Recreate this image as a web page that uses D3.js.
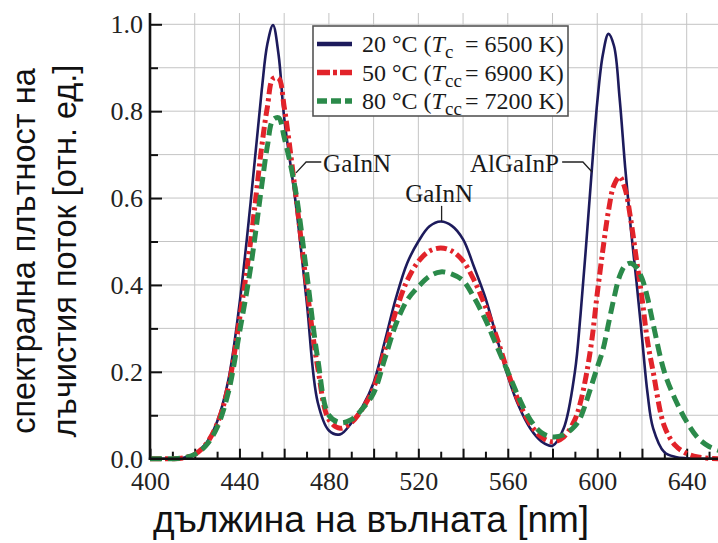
<!DOCTYPE html>
<html>
<head>
<meta charset="utf-8">
<script src="https://cdn.jsdelivr.net/npm/d3@7"></script>
<style>
  html, body { margin: 0; padding: 0; background: #fff; }
  svg { display: block; }
</style>
</head>
<body>
<svg id="chart" width="718" height="543"></svg>
<script>
// ---- data ----
const wavelength = [400,405,410,415,420,425,430,435,440,445,450,452.5,455,457.5,460,465,470,475,480,485,490,495,500,505,510,515,520,525,530,535,540,545,550,555,560,565,570,575,580,585,590,592.5,595,597.5,600,602.5,605,607.5,610,612.5,615,617.5,620,622.5,625,630,635,640,645,650,655];
const series20 = [0,0,0,0.002,0.012,0.035,0.085,0.18,0.355,0.59,0.85,0.955,0.998,0.93,0.785,0.595,0.365,0.13,0.065,0.056,0.082,0.12,0.175,0.27,0.37,0.45,0.5,0.535,0.546,0.536,0.505,0.44,0.37,0.28,0.19,0.12,0.07,0.04,0.03,0.07,0.2,0.33,0.49,0.66,0.82,0.93,0.978,0.95,0.83,0.67,0.53,0.41,0.28,0.15,0.07,0.015,0.004,0.001,0,0,0];
const series50 = [0,0,0,0.002,0.01,0.033,0.08,0.165,0.32,0.5,0.72,0.81,0.875,0.876,0.81,0.615,0.4,0.21,0.09,0.07,0.083,0.115,0.163,0.25,0.34,0.41,0.454,0.478,0.485,0.478,0.455,0.41,0.35,0.28,0.2,0.13,0.08,0.05,0.039,0.05,0.09,0.13,0.19,0.27,0.38,0.48,0.57,0.63,0.649,0.62,0.55,0.46,0.37,0.27,0.2,0.075,0.03,0.012,0.004,0.001,0];
const series80 = [0,0,0,0.002,0.01,0.03,0.072,0.152,0.29,0.44,0.63,0.72,0.78,0.785,0.74,0.62,0.43,0.23,0.1,0.083,0.09,0.115,0.151,0.23,0.31,0.365,0.396,0.42,0.43,0.425,0.41,0.37,0.32,0.26,0.2,0.14,0.09,0.06,0.05,0.055,0.075,0.095,0.13,0.17,0.21,0.25,0.31,0.37,0.42,0.445,0.45,0.44,0.415,0.37,0.31,0.2,0.135,0.085,0.048,0.028,0.018];

const seriesNames = ["20 °C", "50 °C", "80 °C"];
const seriesSub = ["c", "cc", "cc"];
const seriesCCT = ["6500 K)", "6900 K)", "7200 K)"];
const xTickLabels = [400, 440, 480, 520, 560, 600, 640];
const yTickLabels = [0, 0.2, 0.4, 0.6, 0.8, 1.0];
const annotations = [
  {text: "GaInN", at: [477.4, 0.661], anchor: "start", leader: [[465.3, 0.658], [469.8, 0.683], [476.6, 0.683]]},
  {text: "GaInN", at: [529.3, 0.592], anchor: "middle", leader: [[530.4, 0.582], [530.4, 0.547]]},
  {text: "AlGaInP", at: [543.1, 0.661], anchor: "start", leader: [[584.3, 0.683], [593.6, 0.683], [597.7, 0.66]]}
];
const xTitle = "дължина на вълната [nm]";
const yTitle = ["спектрална плътност на", "лъчистия поток [отн. ед.]"];

// ---- styles ----
const colors = ["#1d1b5c", "#e2232a", "#2b8a4a"];
const widths = [2.6, 5, 5];
const dashes = [null, "11 4 3 4", "12 6"];
const serif = "'Liberation Serif', 'Times New Roman', serif";
const sans = "'Liberation Sans', Arial, sans-serif";

const svg = d3.select("#chart");
svg.append("rect").attr("width", 718).attr("height", 543).attr("fill", "#fff");

const x = d3.scaleLinear().domain([400, 654]).range([150, 718]);
const y = d3.scaleLinear().domain([0, 1]).range([458.7, 24.3]);
const yTop = 13;

// grid
const grid = svg.append("g").attr("stroke", "#c4c4c4").attr("stroke-width", 1);
grid.selectAll("line.v").data(d3.range(420, 660, 20)).join("line")
  .attr("x1", d => x(d)).attr("x2", d => x(d)).attr("y1", y(0)).attr("y2", yTop);
grid.selectAll("line.h").data(d3.range(1, 11).map(d => d / 10)).join("line")
  .attr("x1", x(400)).attr("x2", 718).attr("y1", d => y(d)).attr("y2", d => y(d));

// axes ticks
const fmt = d3.format(".1f");
const yAxisMajor = d3.axisLeft(y).tickValues(yTickLabels).tickSizeInner(-12).tickSizeOuter(0).tickPadding(7).tickFormat(fmt);
const yAxisMinor = d3.axisLeft(y).tickValues([0.1, 0.3, 0.5, 0.7, 0.9]).tickSizeInner(-8).tickSizeOuter(0).tickFormat("");
const xAxisMajor = d3.axisBottom(x).tickValues(d3.range(400, 660, 20)).tickSizeInner(-10).tickSizeOuter(0).tickPadding(13)
  .tickFormat(d => xTickLabels.includes(d) ? d : "");
const xAxisMinor = d3.axisBottom(x).tickValues(d3.range(410, 660, 20)).tickSizeInner(-7).tickSizeOuter(0).tickFormat("");

function styleAxis(g) {
  g.select(".domain").remove();
  g.selectAll(".tick line").attr("stroke", "#111").attr("stroke-width", 2);
  g.selectAll(".tick text").attr("font-family", serif).attr("font-size", 26).attr("fill", "#222");
}
svg.append("g").attr("transform", `translate(${x(400)},0)`).call(yAxisMajor).call(styleAxis);
svg.append("g").attr("transform", `translate(${x(400)},0)`).call(yAxisMinor).call(styleAxis);
svg.append("g").attr("transform", `translate(0,${y(0)})`).call(xAxisMajor).call(styleAxis);
svg.append("g").attr("transform", `translate(0,${y(0)})`).call(xAxisMinor).call(styleAxis);

// series lines
const allSeries = [series20, series50, series80];
const line = d3.line().x(d => x(d[0])).y(d => y(Math.max(0, d[1]))).curve(d3.curveCatmullRom.alpha(0.5));
const plot = svg.append("g");
allSeries.forEach((vals, i) => {
  plot.append("path")
    .datum(wavelength.map((w, k) => [w, vals[k]]))
    .attr("d", line)
    .attr("fill", "none")
    .attr("stroke", colors[i])
    .attr("stroke-width", widths[i])
    .attr("stroke-dasharray", dashes[i])
    .attr("stroke-linejoin", "round");
});

// axis lines
svg.append("line").attr("x1", x(400)).attr("x2", x(400)).attr("y1", yTop).attr("y2", y(0) + 1.2)
  .attr("stroke", "#111").attr("stroke-width", 2.6);
svg.append("line").attr("x1", x(400) - 1.2).attr("x2", 718).attr("y1", y(0)).attr("y2", y(0))
  .attr("stroke", "#111").attr("stroke-width", 2.6);

// annotations
const ann = svg.append("g");
annotations.forEach(a => {
  ann.append("path")
    .attr("d", d3.line().x(p => x(p[0])).y(p => y(p[1]))(a.leader))
    .attr("fill", "none").attr("stroke", "#222").attr("stroke-width", 1.3);
  ann.append("text")
    .attr("x", x(a.at[0])).attr("y", y(a.at[1]))
    .attr("text-anchor", a.anchor)
    .attr("font-family", serif).attr("font-size", 25).attr("fill", "#1a1a1a")
    .text(a.text);
});

// legend
const lg = svg.append("g");
lg.append("rect").attr("x", 313).attr("y", 26).attr("width", 255).attr("height", 90)
  .attr("fill", "#fff").attr("stroke", "#555").attr("stroke-width", 1.6);
seriesNames.forEach((name, i) => {
  const cy = 44 + i * 28.5;
  lg.append("line").attr("x1", 317).attr("x2", 352).attr("y1", cy).attr("y2", cy)
    .attr("stroke", colors[i]).attr("stroke-width", i === 0 ? 4.5 : 5.5)
    .attr("stroke-dasharray", i === 0 ? null : (i === 1 ? "13 3 4 3" : "10 4"));
  const t = lg.append("text").attr("x", 362).attr("y", cy + 8)
    .attr("font-family", serif).attr("font-size", 24).attr("fill", "#1a1a1a");
  t.append("tspan").text(name + " (");
  t.append("tspan").attr("font-style", "italic").text("T");
  t.append("tspan").attr("font-size", 19).attr("dy", 6).text(seriesSub[i]);
  t.append("tspan").attr("x", 465).attr("dy", -6).text("= " + seriesCCT[i]);
});

// axis titles
svg.append("text").attr("x", 371).attr("y", 532).attr("text-anchor", "middle")
  .attr("font-family", sans).attr("font-size", 37).attr("fill", "#111").text(xTitle);
yTitle.forEach((tline, i) => {
  svg.append("text")
    .attr("transform", `translate(${35 + i * 41},251) rotate(-90)`)
    .attr("text-anchor", "middle")
    .attr("font-family", sans).attr("font-size", 32.5).attr("fill", "#111").text(tline);
});
</script>
</body>
</html>
